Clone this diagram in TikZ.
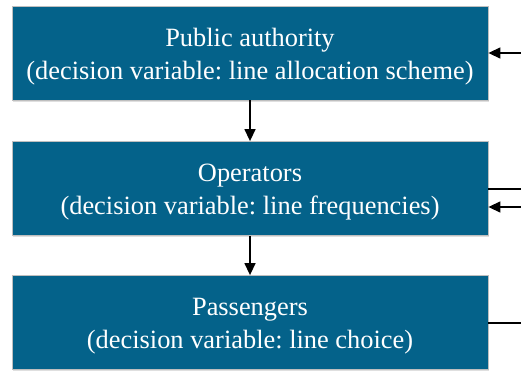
\documentclass[tikz,border=0pt]{standalone}
\usepackage{fontspec}
\setmainfont{Liberation Serif}
\usetikzlibrary{arrows.meta,shadows}
\definecolor{boxblue}{RGB}{4,98,138}
\tikzset{
  layer/.style={draw=black!25, line width=0.8pt, fill=boxblue,
    minimum width=476pt, minimum height=94pt, inner sep=0pt,
    drop shadow={shadow xshift=1pt, shadow yshift=-1.5pt, opacity=0.25}},
  layertext/.style={text=white, align=center, inner sep=0pt, yshift=-4pt,
    font=\fontsize{26.4}{33}\selectfont},
  conn/.style={line width=1.4pt, -{Triangle[length=12pt,width=11pt]}},
  plain/.style={line width=1.4pt}
}
\frenchspacing
\begin{document}
\begin{tikzpicture}[x=1pt,y=1pt]
\useasboundingbox (0,0) rectangle (521,373);
\node[layer] (pa) at (250,320) {};
\node[layer] (op) at (250,184.5) {};
\node[layer] (pg) at (250,50.5) {};
\node[layertext] (pat) at (pa.center) {Public authority\\(decision variable: line allocation scheme)};
\node[layertext] (opt) at (op.center) {Operators\\(decision variable: line frequencies)};
\node[layertext] (pgt) at (pg.center) {Passengers\\(decision variable: line choice)};
\draw[conn] (pa) -- (op);
\draw[conn] (op) -- (pg);
\coordinate (r1) at (521,320);
\coordinate (r2) at (521,184);
\coordinate (r3) at (521,166);
\coordinate (r4) at (521,50);
\draw[conn] (r1) -- (pa.east |- r1);
\draw[plain] (op.east |- r2) -- (r2);
\draw[conn] (r3) -- (op.east |- r3);
\draw[plain] (pg.east |- r4) -- (r4);
\end{tikzpicture}
\end{document}
